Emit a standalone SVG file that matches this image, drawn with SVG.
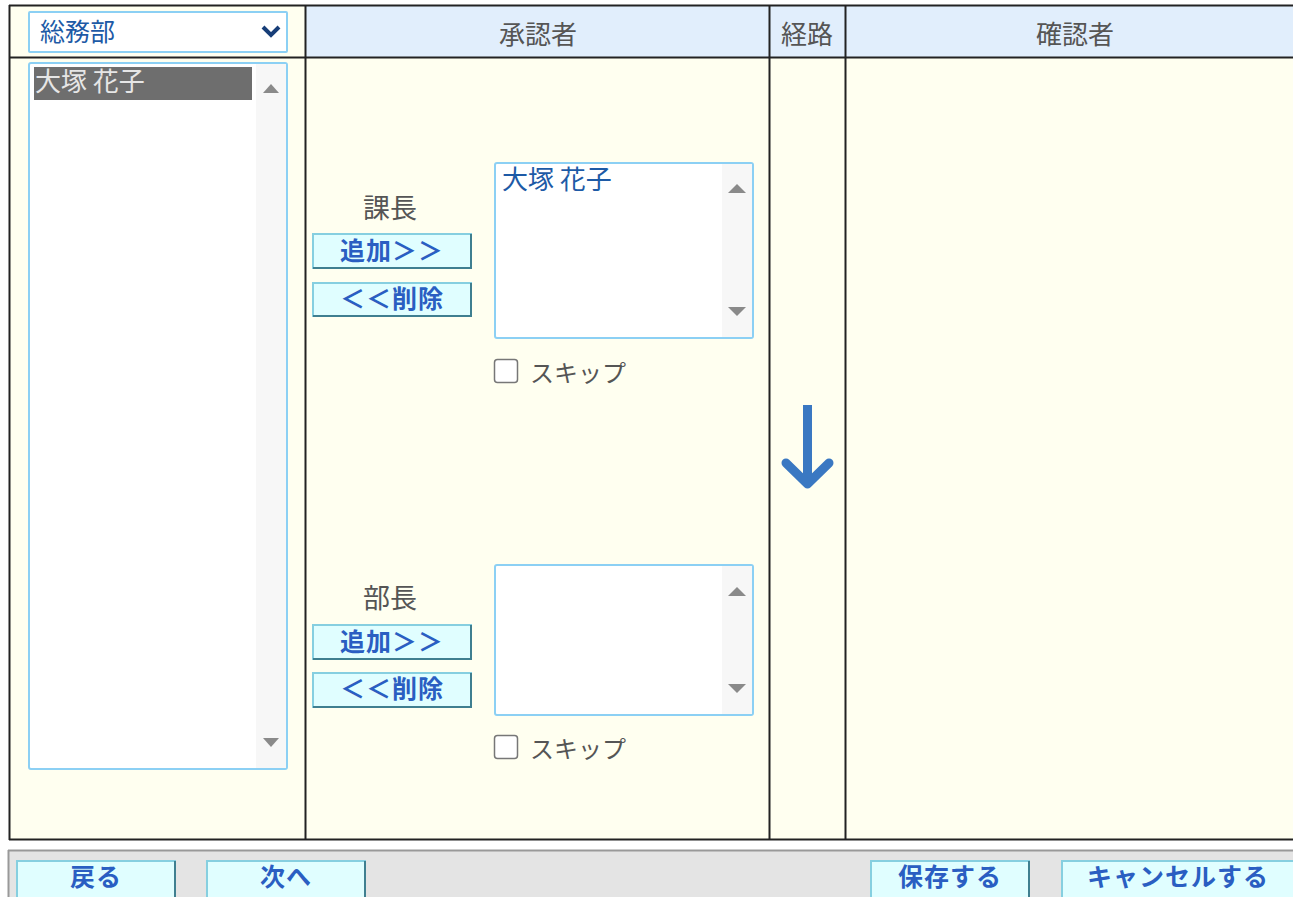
<svg xmlns="http://www.w3.org/2000/svg" width="1293" height="897" viewBox="0 0 1293 897">
<defs>
<style>
text{font-family:"Noto Sans CJK JP","Noto Sans CJK SC",sans-serif;}
.hdr{font-size:26px;fill:#555;text-anchor:middle;}
.lbl{font-size:27px;fill:#555;text-anchor:middle;}
.btn rect.face{fill:#e0feff;stroke:#86cfe0;stroke-width:2;}
.btn path.shade{fill:none;stroke:#3f7f90;stroke-width:2;}
.btn text{font-size:25px;font-weight:bold;fill:#2a5ec2;text-anchor:middle;letter-spacing:1px;}
.lb{fill:#fff;stroke:#8cd0f4;stroke-width:2;}
.sb{fill:#f7f7f7;}
.tri{fill:#8a8a8a;}
.grid{stroke:#222;stroke-width:2;fill:none;}
.chk{fill:#fff;stroke:#777;stroke-width:1.5;}
.skip{font-size:24px;fill:#555;}
</style>
</defs>
<rect x="0" y="0" width="1293" height="897" fill="#fff"/>
<rect x="9" y="5" width="1290" height="835" fill="#fffff0"/>
<rect x="305" y="5" width="990" height="52" fill="#e1eefc"/>
<g id="table-grid">
<path class="grid" d="M9 5.5H1293M9 57.5H1293M9 839.5H1293M9.5 5V840M305.5 5V840M769.5 5V840M845.5 5V840"/>
</g>
<g id="headers">
<text class="hdr" x="538" y="44">承認者</text>
<text class="hdr" x="807" y="44">経路</text>
<text class="hdr" x="1075" y="44">確認者</text>
</g>
<g id="dept-select">
<rect x="29" y="12" width="258" height="40" fill="#fff" stroke="#8cd0f4" stroke-width="2" rx="1"/>
<text x="40" y="41" style="font-size:25px;fill:#1d5aa6;">総務部</text>
<polyline points="263,27 271,35 279,27" fill="none" stroke="#173e78" stroke-width="4"/>
</g>
<g id="member-list">
<rect class="lb" x="29" y="63" width="258" height="706" rx="2"/>
<rect class="sb" x="256" y="64" width="30" height="704"/>
<rect x="34" y="67" width="218" height="33" fill="#6e6e6e"/>
<text x="35" y="91" style="font-size:26px;fill:#e6e6e6;">大塚 花子</text>
<polygon class="tri" points="263,93 271,84 279,93"/>
<polygon class="tri" points="263,738 271,747 279,738"/>
</g>
<g id="kacho">
<text class="lbl" x="390" y="218">課長</text>
<g class="btn" id="kacho-add">
<rect class="face" x="313" y="234" width="158" height="34"/>
<path class="shade" d="M313 268H471V234"/>
<text x="392" y="260">追加＞＞</text>
</g>
<g class="btn" id="kacho-del">
<rect class="face" x="313" y="283" width="158" height="33"/>
<path class="shade" d="M313 316H471V283"/>
<text x="392" y="308">＜＜削除</text>
</g>
<rect class="lb" x="495" y="163" width="258" height="175" rx="2"/>
<rect class="sb" x="722" y="164" width="30" height="173"/>
<text x="502" y="189" style="font-size:26px;fill:#1d5aa6;">大塚 花子</text>
<polygon class="tri" points="728,193 737,184 746,193"/>
<polygon class="tri" points="728,307 737,316 746,307"/>
<rect class="chk" x="494.5" y="359.5" width="23" height="23" rx="3"/>
<text class="skip" x="530" y="382">スキップ</text>
</g>
<g id="bucho">
<text class="lbl" x="390" y="608">部長</text>
<g class="btn" id="bucho-add">
<rect class="face" x="313" y="625" width="158" height="34"/>
<path class="shade" d="M313 659H471V625"/>
<text x="392" y="651">追加＞＞</text>
</g>
<g class="btn" id="bucho-del">
<rect class="face" x="313" y="673" width="158" height="34"/>
<path class="shade" d="M313 707H471V673"/>
<text x="392" y="698">＜＜削除</text>
</g>
<rect class="lb" x="495" y="565" width="258" height="150" rx="2"/>
<rect class="sb" x="722" y="566" width="30" height="148"/>
<polygon class="tri" points="728,596 737,587 746,596"/>
<polygon class="tri" points="728,684 737,693 746,684"/>
<rect class="chk" x="494.5" y="735.5" width="23" height="23" rx="3"/>
<text class="skip" x="530" y="758">スキップ</text>
</g>
<g id="connectors">
<line x1="807.5" y1="405" x2="807.5" y2="482" stroke="#3a78c2" stroke-width="9"/>
<polyline points="786,463 807.5,484 829,463" fill="none" stroke="#3a78c2" stroke-width="9" stroke-linejoin="round" stroke-linecap="round"/>
</g>
<g id="footer">
<rect x="8" y="850" width="1290" height="50" fill="#e4e4e4"/>
<path d="M8 850.5H1293M8.5 850V897" stroke="#999" stroke-width="2" fill="none"/>
<g class="btn" id="btn-back">
<rect class="face" x="17" y="861" width="158" height="40"/>
<path class="shade" d="M175 861V901"/>
<text x="96" y="886">戻る</text>
</g>
<g class="btn" id="btn-next">
<rect class="face" x="207" y="861" width="158" height="40"/>
<path class="shade" d="M365 861V901"/>
<text x="286" y="886">次へ</text>
</g>
<g class="btn" id="btn-save">
<rect class="face" x="871" y="861" width="158" height="40"/>
<path class="shade" d="M1029 861V901"/>
<text x="950" y="886">保存する</text>
</g>
<g class="btn" id="btn-cancel">
<rect class="face" x="1062" y="861" width="236" height="40"/>
<text x="1178" y="886">キャンセルする</text>
</g>
</g>
</svg>
